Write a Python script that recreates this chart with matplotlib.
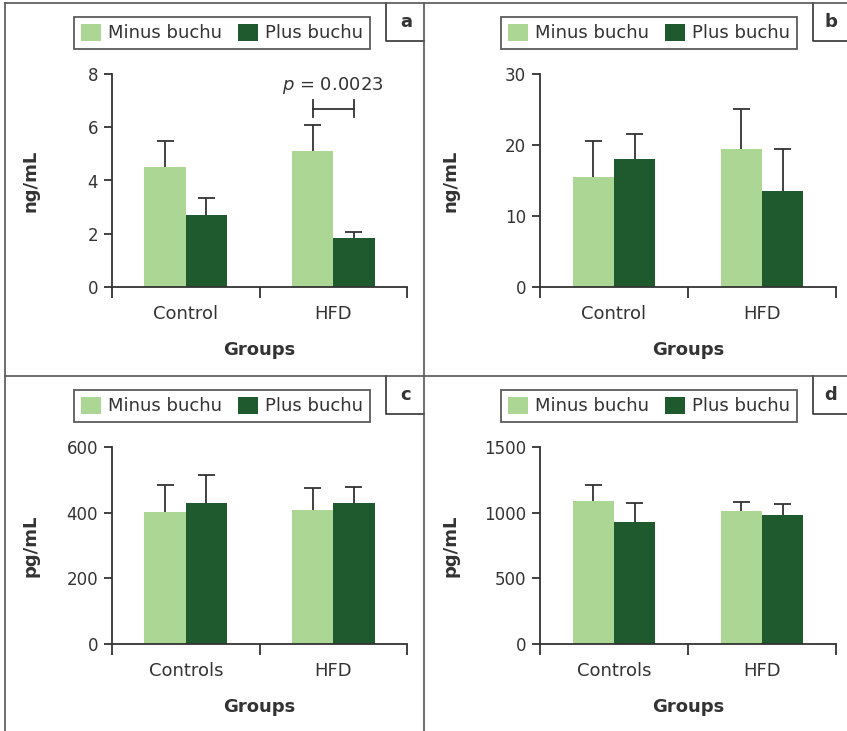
"""Four-panel grouped bar chart: minus vs plus buchu in control and HFD groups."""

import matplotlib
matplotlib.use("Agg")
import matplotlib.pyplot as plt
from matplotlib.lines import Line2D
from matplotlib.patches import Patch
import numpy as np

plt.rcParams["font.family"] = ["DejaVu Sans"]

# ── Data ──────────────────────────────────────────────────
series_names = ["Minus buchu", "Plus buchu"]
panel_letters = ["a", "b", "c", "d"]
groups_ab = ["Control", "HFD"]
groups_cd = ["Controls", "HFD"]
units = ["ng/mL", "ng/mL", "pg/mL", "pg/mL"]

a_minus = [4.5, 5.1]
a_minus_err = [0.98, 1.0]
a_plus = [2.7, 1.85]
a_plus_err = [0.65, 0.2]

b_minus = [15.5, 19.4]
b_minus_err = [5.1, 5.7]
b_plus = [18.0, 13.5]
b_plus_err = [3.6, 6.0]

c_minus = [402, 408]
c_minus_err = [82, 68]
c_plus = [429, 429]
c_plus_err = [86, 50]

d_minus = [1088, 1012]
d_minus_err = [121, 71]
d_plus = [928, 981]
d_plus_err = [147, 86]

ylims = [8, 30, 600, 1500]
yticks = [[0, 2, 4, 6, 8], [0, 10, 20, 30], [0, 200, 400, 600], [0, 500, 1000, 1500]]

p_label = "$p$ = 0.0023"
p_bracket_y = 6.7

LIGHT = "#acd694"
DARK = "#1e5a2e"
TXT = "#333333"

W, H = 847, 731
fig = plt.figure(figsize=(W / 100, H / 100), dpi=100)


def fx(px):
    return px / W


def fy(py):
    return 1 - py / H


# axes rectangles in pixels: (left, top, right, bottom)
rects = [(112, 74, 407, 287), (540, 74, 836, 287),
         (112, 447, 407, 644), (540, 447, 836, 644)]
ylabel_x = [-0.245, -0.273, -0.247, -0.273]
legend_centers = [(222, 33), (649, 33), (222, 406), (649, 406)]
label_boxes = [(386, 3, 424, 41), (813, 3, 847, 41),
               (386, 376, 424, 414), (813, 376, 847, 414)]

data = [
    (groups_ab, a_minus, a_minus_err, a_plus, a_plus_err),
    (groups_ab, b_minus, b_minus_err, b_plus, b_plus_err),
    (groups_cd, c_minus, c_minus_err, c_plus, c_plus_err),
    (groups_cd, d_minus, d_minus_err, d_plus, d_plus_err),
]

bw = 0.28
cap = 0.058
for i, (groups, mn, mn_e, pl, pl_e) in enumerate(data):
    l, t, r, b = rects[i]
    ax = fig.add_axes([fx(l), fy(b), fx(r - l), (b - t) / H])
    x = np.arange(len(groups))
    ax.bar(x - bw / 2, mn, bw, color=LIGHT, zorder=2)
    ax.bar(x + bw / 2, pl, bw, color=DARK, zorder=2)
    # upper-only error bars
    for xs, vals, errs in [(x - bw / 2, mn, mn_e), (x + bw / 2, pl, pl_e)]:
        tops = np.array(vals) + np.array(errs)
        ax.vlines(xs, vals, tops, color=TXT, lw=1.3, zorder=3)
        ax.hlines(tops, xs - cap, xs + cap, color=TXT, lw=1.3, zorder=3)

    ax.set_xlim(-0.5, len(groups) - 0.5)
    ax.set_ylim(0, ylims[i])
    ax.set_yticks(yticks[i])
    ax.set_xticks(np.arange(len(groups) + 1) - 0.5)
    ax.set_xticklabels([])
    ax.set_xticks(x, minor=True)
    ax.set_xticklabels(groups, minor=True, fontsize=13, color=TXT)
    ax.tick_params(axis="x", which="major", length=8, width=1.3, color=TXT)
    ax.tick_params(axis="x", which="minor", length=0, pad=13)
    ax.tick_params(axis="y", length=6, width=1.3, color=TXT,
                   labelsize=12, labelcolor=TXT, pad=4)
    for s in ["top", "right"]:
        ax.spines[s].set_visible(False)
    for s in ["left", "bottom"]:
        ax.spines[s].set_color(TXT)
        ax.spines[s].set_linewidth(1.3)

    ax.set_xlabel("Groups", fontsize=13, fontweight="bold", color=TXT, labelpad=13)
    ax.set_ylabel(units[i], fontsize=13, fontweight="bold", color=TXT)
    ax.yaxis.set_label_coords(ylabel_x[i], 0.5)

    if i == 0:
        # significance bracket between HFD bars
        x0, x1 = 1 - bw / 2, 1 + bw / 2
        ax.plot([x0, x1], [p_bracket_y, p_bracket_y], color=TXT, lw=1.3, clip_on=False)
        for xx in (x0, x1):
            ax.plot([xx, xx], [p_bracket_y - 0.33, p_bracket_y + 0.33],
                    color=TXT, lw=1.3, clip_on=False)
        ax.text(1, 7.55, p_label, ha="center", va="center", fontsize=13, color=TXT)

    # legend
    handles = [Patch(facecolor=LIGHT), Patch(facecolor=DARK)]
    cx, cy = legend_centers[i]
    leg = fig.legend(handles, series_names, loc="center",
                     bbox_to_anchor=(fx(cx), fy(cy)), ncol=2, fontsize=13,
                     frameon=True, fancybox=False, handlelength=1.1,
                     handleheight=1.1, handletextpad=0.4, columnspacing=0.9,
                     borderpad=0.35, borderaxespad=0)
    leg.get_frame().set_edgecolor(TXT)
    leg.get_frame().set_linewidth(1.3)
    for txt in leg.get_texts():
        txt.set_color(TXT)

    # panel letter box
    bl, bt, br, bb = label_boxes[i]
    fig.add_artist(Line2D([fx(bl), fx(bl), fx(br)], [fy(bt), fy(bb), fy(bb)],
                          color=TXT, lw=1.2))
    fig.text(fx((bl + br) / 2 + 1), fy((bt + bb) / 2), panel_letters[i],
             ha="center", va="center", fontsize=13, fontweight="bold", color=TXT)

# panel frame lines
frame = "#555555"
fig.add_artist(Line2D([fx(5), fx(847)], [fy(3), fy(3)], color=frame, lw=1.2))
fig.add_artist(Line2D([fx(5), fx(5)], [fy(3), fy(731)], color=frame, lw=1.2))
fig.add_artist(Line2D([fx(424), fx(424)], [fy(3), fy(731)], color=frame, lw=1.2))
fig.add_artist(Line2D([fx(5), fx(847)], [fy(376), fy(376)], color=frame, lw=1.2))

fig.savefig("out.png", dpi=100)
plt.close(fig)
